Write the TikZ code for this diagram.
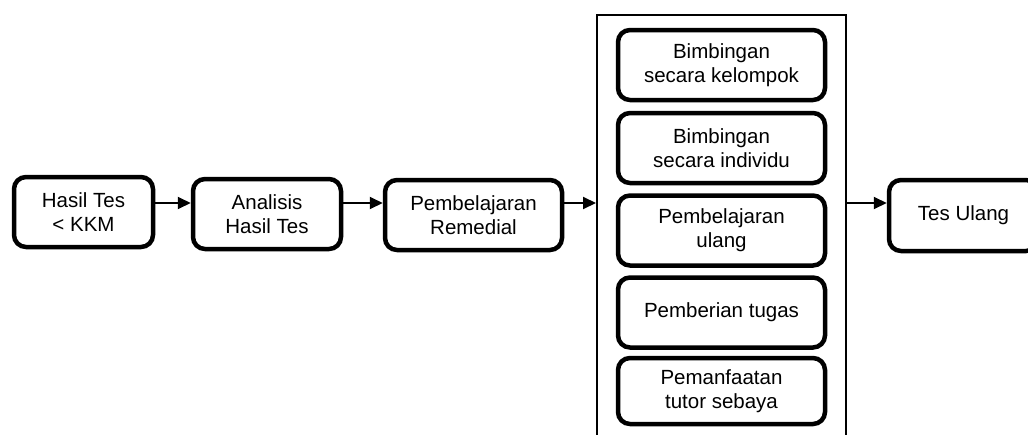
\documentclass[tikz,border=0pt]{standalone}
\usepackage{fontspec}
\setmainfont{Liberation Sans}
\usetikzlibrary{arrows.meta,calc}
\begin{document}
\begin{tikzpicture}[x=1pt,y=-1pt,
  box/.style={draw=black,line width=4.5pt,rounded corners=12pt,rectangle,
    align=center,inner sep=0pt,font=\fontsize{20.5}{24}\selectfont,fill=white},
  conn/.style={line width=2pt,-{Triangle[length=13pt,width=12pt]}},
  frame/.style={draw=black,line width=2pt}]
\useasboundingbox (0,0) rectangle (1028,434);
\node[box,minimum width=139pt,minimum height=70pt] (b1) at (83.5,212) {Hasil Tes\\< KKM};
\node[box,minimum width=148pt,minimum height=70pt] (b2) at (267,214) {Analisis\\Hasil Tes};
\node[box,minimum width=177pt,minimum height=70pt] (b3) at (473.5,215) {Pembelajaran\\Remedial};
\node[frame,rectangle,minimum width=249pt,minimum height=430pt,inner sep=0pt] (fr) at (721.5,230) {};
\node[box,minimum width=207pt,minimum height=70pt] (m1) at (721.5,65) {Bimbingan\\secara kelompok};
\node[box,minimum width=207pt,minimum height=70pt] (m2) at (721.5,148) {Bimbingan\\secara individu};
\node[box,minimum width=207pt,minimum height=70pt] (m3) at (721.5,230.5) {Pembelajaran\\ulang};
\node[box,minimum width=207pt,minimum height=70pt] (m4) at (721.5,312.5) {Pemberian tugas};
\node[box,minimum width=207pt,minimum height=66pt] (m5) at (721.5,391) {Pemanfaatan\\tutor sebaya};
\node[box,minimum width=149pt,minimum height=71pt] (b4) at (963.5,215.5) {Tes Ulang};
\coordinate (ar) at (0,203);
\draw[conn] (b1.east |- ar) -- (b2.west |- ar);
\draw[conn] (b2.east |- ar) -- (b3.west |- ar);
\draw[conn] (b3.east |- ar) -- (fr.west |- ar);
\draw[conn] (fr.east |- ar) -- (b4.west |- ar);
\end{tikzpicture}
\end{document}
